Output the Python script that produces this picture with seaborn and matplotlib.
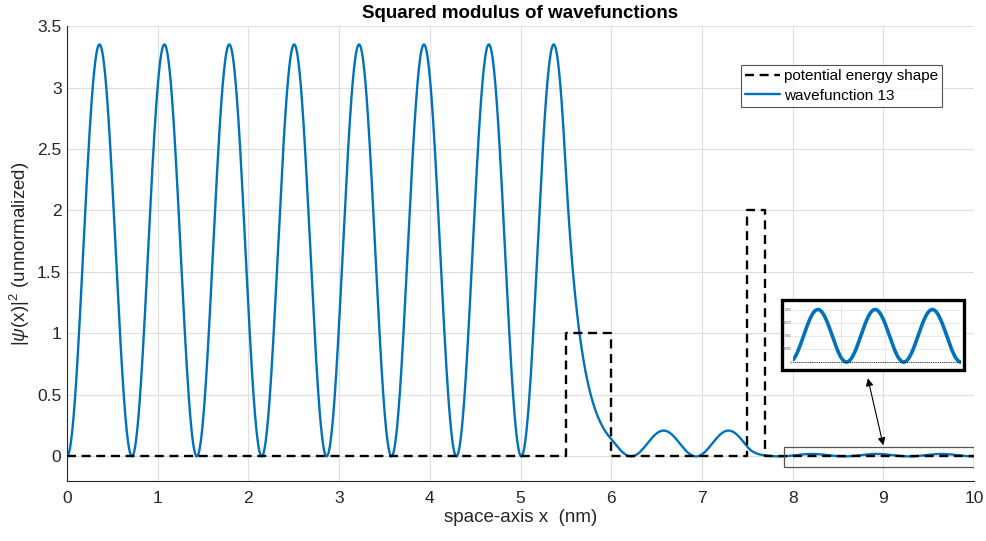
import numpy as np
import pandas as pd
import matplotlib
matplotlib.use("Agg")
import matplotlib.pyplot as plt
import seaborn as sns
from matplotlib.patches import Rectangle

# Step potential: corner points (x in nm, V in eV)
pot_x = [0.0, 5.5, 5.5, 6.0, 6.0, 7.5, 7.5, 7.7, 7.7, 10.0]
pot_v = [0.0, 0.0, 1.0, 1.0, 0.0, 0.0, 2.0, 2.0, 0.0, 0.0]

# |psi|^2 in the three wells: region limits, first node, node spacing, lobe height
well_start = [0.0, 6.0, 7.7]
well_end = [5.5, 7.5, 10.0]
well_node0 = [0.0, 6.22, 7.853]
well_node_gap = [0.7155, 0.7155, 0.7155]
well_peak = [3.35, 0.21, 0.02]

# Barriers between the wells (evanescent decay across each)
barrier_start = [5.5, 7.5]
barrier_end = [6.0, 7.7]

# Zoom window on the far-right tail and the inset's y ticks
zoom_x = [7.9, 10.0]
zoom_y = [-0.09, 0.08]
inset_yticks = [0, 0.005, 0.01, 0.015, 0.02]
arrow_from = (8.83, 0.635)
arrow_to = (9.0, 0.09)

BLUE = "#0072BD"
AX = "#262626"
GRID = "#dedede"


def well_density(i, x):
    return well_peak[i] * np.sin(np.pi * (x - well_node0[i]) / well_node_gap[i]) ** 2


x = np.linspace(0.0, 10.0, 5001)
psi2 = np.zeros_like(x)
for i in range(len(well_start)):
    m = (x >= well_start[i]) & (x <= well_end[i])
    psi2[m] = well_density(i, x[m])
for j in range(len(barrier_start)):
    a, b = barrier_start[j], barrier_end[j]
    left = well_density(j, a)
    right = well_density(j + 1, b)
    m = (x >= a) & (x <= b)
    psi2[m] = left * (right / left) ** ((x[m] - a) / (b - a))

wave = pd.DataFrame({"x": x, "psi2": psi2})
pot = pd.DataFrame({"x": pot_x, "V": pot_v})

sns.set_theme(style="whitegrid")
plt.rcParams["font.family"] = ["Liberation Sans", "DejaVu Sans"]
plt.rcParams["mathtext.fontset"] = "custom"
plt.rcParams["mathtext.rm"] = "Liberation Sans"
plt.rcParams["mathtext.it"] = "Liberation Sans:italic"

fig = plt.figure(figsize=(9.86, 5.41), dpi=100)
ax = fig.add_axes([0.0680, 0.1109, 0.9198, 0.8410])

sns.lineplot(data=wave, x="x", y="psi2", ax=ax, color=BLUE, lw=1.7,
             estimator=None, sort=False, zorder=3)
sns.lineplot(data=pot, x="x", y="V", ax=ax, color="black", lw=1.7,
             estimator=None, sort=False, zorder=4)
wave_line, pot_line = ax.lines[0], ax.lines[1]
pot_line.set_dashes([3.8, 2.4])

ax.set_xlim(0, 10)
ax.set_ylim(-0.2, 3.5)
ax.set_xticks(np.arange(0, 11, 1))
ax.set_yticks(np.arange(0, 3.51, 0.5))
ax.set_yticklabels(["0", "0.5", "1", "1.5", "2", "2.5", "3", "3.5"])
ax.grid(True, color=GRID, lw=0.8)
ax.set_axisbelow(True)
for s in ["top", "right"]:
    ax.spines[s].set_visible(False)
for s in ["left", "bottom"]:
    ax.spines[s].set_color(AX)
    ax.spines[s].set_linewidth(0.8)
ax.tick_params(axis="both", direction="in", length=6.5, width=0.7, color=AX,
               labelcolor=AX, labelsize=12.5)
ax.tick_params(axis="x", pad=7)
ax.tick_params(axis="y", pad=4)

ax.set_title("Squared modulus of wavefunctions", fontsize=13.5,
             fontweight="bold", color="black", pad=6)
ax.set_xlabel("space-axis x  (nm)", fontsize=13.5, color=AX, labelpad=2)
ax.set_ylabel(r"|$\psi$(x)|$^2$ (unnormalized)", fontsize=13.5, color=AX,
              labelpad=4)

leg = ax.legend([pot_line, wave_line], ["potential energy shape", "wavefunction 13"],
                loc="upper left", bbox_to_anchor=(0.743, 0.914), borderaxespad=0,
                fontsize=11, frameon=True, fancybox=False, handlelength=2.3,
                handletextpad=0.25, labelspacing=0.38, borderpad=0.25)
leg.get_frame().set_edgecolor(AX)
leg.get_frame().set_linewidth(0.8)
for t in leg.get_texts():
    t.set_color("black")

# Rectangle marking the zoomed tail
ax.add_patch(Rectangle((zoom_x[0], zoom_y[0]), zoom_x[1] - zoom_x[0],
                       zoom_y[1] - zoom_y[0], fill=False, edgecolor="#555555",
                       lw=0.9, zorder=5))
ax.annotate("", xy=arrow_to, xytext=arrow_from,
            arrowprops=dict(arrowstyle="<|-|>", color="black", lw=0.8,
                            mutation_scale=11, shrinkA=0, shrinkB=0), zorder=6)

# Inset frame and inset axes showing the tail
fig.patches.append(Rectangle((0.7931, 0.3161), 0.1846, 0.1294,
                             transform=fig.transFigure, facecolor="white",
                             edgecolor="black", lw=2.4, zorder=5))
ins = fig.add_axes([0.8043, 0.3235, 0.1704, 0.1165], zorder=6)
ins.patch.set_alpha(0)
tail = wave[(wave["x"] >= zoom_x[0]) & (wave["x"] <= zoom_x[1])]
sns.lineplot(data=tail, x="x", y="psi2", ax=ins, color=BLUE, lw=2.6,
             estimator=None, sort=False, zorder=3)
ins.plot(zoom_x, [0, 0], color="black", lw=0.6, ls=(0, (1, 1.2)), zorder=4)
ins.set_xlim(zoom_x[0], zoom_x[1])
ins.set_ylim(-0.0015, 0.0225)
ins.set_yticks(inset_yticks)
ins.set_yticklabels(["0", "0.005", "0.01", "0.015", "0.02"])
ins.set_xticks([8.5, 9.05])
ins.set_xticklabels([])
ins.grid(True, color="#e4e4e4", lw=0.6)
ins.tick_params(axis="y", labelsize=2.6, length=1.2, pad=0.5, labelcolor="#555555",
                direction="in")
ins.tick_params(axis="x", length=0)
ins.set_xlabel("")
ins.set_ylabel("")
for s in ins.spines.values():
    s.set_visible(False)

fig.savefig("out.png", dpi=100)
